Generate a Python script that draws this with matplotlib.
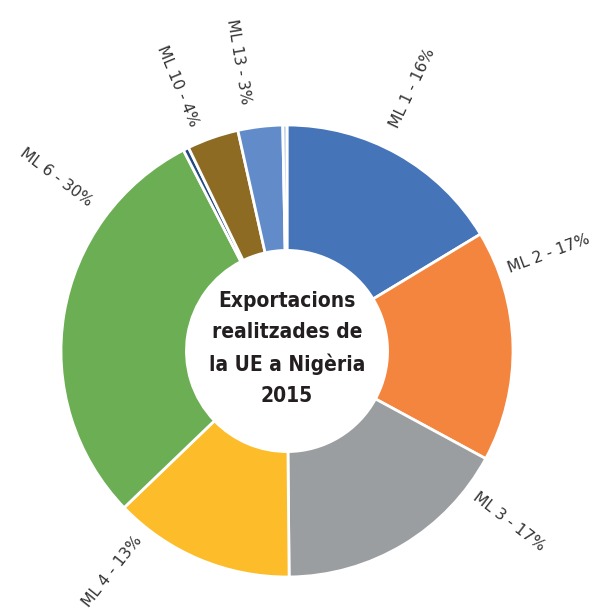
import numpy as np
import matplotlib
matplotlib.use("Agg")
import matplotlib.pyplot as plt

# Data
categories = ["ML 1", "ML 2", "ML 3", "ML 4", "ML 6", "ML 9", "ML 10", "ML 13", "ML 14"]
shares = [16.4, 16.6, 17.0, 13.0, 29.7, 0.4, 3.7, 3.2, 0.3]
label_texts = ["ML 1 - 16%", "ML 2 - 17%", "ML 3 - 17%", "ML 4 - 13%", "ML 6 - 30%",
               None, "ML 10 - 4%", "ML 13 - 3%", None]
colors = ["#4574B9", "#F4853F", "#9B9EA1", "#FDBD2A", "#6BAE54",
          "#234A80", "#8D6B23", "#628CC9", "#B7C9E6"]
center_title = "Exportacions\nrealitzades de\nla UE a Nigèria\n2015"

# label placement (polar angle in degrees, radius) - layout only
label_pos = [(64.5, 1.29), (20.5, 1.235), (-37.5, 1.24), (-128.5, 1.245), (143.0, 1.28),
             None, (112.5, 1.27), (99.5, 1.30), None]

W, H = 599, 615
fig = plt.figure(figsize=(W / 100, H / 100), dpi=100)
ax = fig.add_axes([0, 0, 1, 1])
R_PX = 226.0
cx, cy = 287.0, 615 - 351.0

ax.pie(shares, colors=colors, startangle=90, counterclock=False, radius=1.0,
       wedgeprops=dict(width=0.555, edgecolor="white", linewidth=2.0))

ax.set_xlim(-cx / R_PX, (W - cx) / R_PX)
ax.set_ylim(-cy / R_PX, (H - cy) / R_PX)
ax.set_aspect("equal")
ax.axis("off")

for txt, pos in zip(label_texts, label_pos):
    if txt is None:
        continue
    ang, r = pos
    x = r * np.cos(np.radians(ang))
    y = r * np.sin(np.radians(ang))
    rot = ang
    if rot > 90:
        rot -= 180
    elif rot < -90:
        rot += 180
    ax.text(x, y, txt, rotation=rot, rotation_mode="anchor", ha="center", va="center",
            fontsize=11.2, color="#333333", family=["DejaVu Sans"])

ax.text(0, 0.01, center_title, ha="center", va="center", fontsize=15, fontweight="bold",
        color="#231f20", linespacing=1.68, fontstretch="condensed",
        family=["DejaVu Sans"])

fig.savefig("out.png", dpi=100, facecolor="white")
